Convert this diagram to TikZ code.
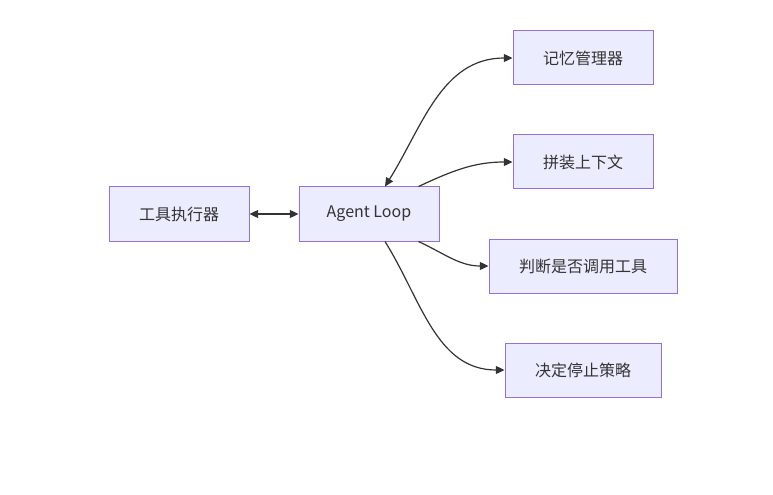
\documentclass[tikz,border=0pt]{standalone}
\usepackage{fontspec}
\setmainfont{Noto Sans CJK SC}
\usepackage{xcolor}
\usepackage{tikz}
\usetikzlibrary{arrows.meta}

\definecolor{boxfill}{HTML}{ECECFF}
\definecolor{boxline}{HTML}{9370DB}
\definecolor{edgeline}{HTML}{333333}

\begin{document}
\begin{tikzpicture}[x=0.75pt, y=-0.75pt,
    box/.style={draw=boxline, fill=boxfill, line width=0.75pt, text=edgeline,
        font=\fontsize{12}{14}\selectfont, minimum width=105pt, minimum height=40.5pt,
        inner xsep=22.5pt},
    link/.style={draw=edgeline, line width=0.9pt, -{Triangle[length=6.5pt, width=6pt]}},
    dlink/.style={link, {Triangle[length=6.5pt, width=6pt]}-{Triangle[length=6.5pt, width=6pt]}}]
    \useasboundingbox (0,0) rectangle (773,495);

    % Left side: executor and main loop
    \node[box] (tools) at (179,214) {工具执行器};
    \node[box, inner xsep=0pt] (loop) at (369,214) {Agent Loop};

    % Right column of tasks
    \node[box] (memory) at (583,58) {记忆管理器};
    \node[box] (context) at (583,162) {拼装上下文};
    \node[box] (decide) at (583,266) {判断是否调用工具};
    \node[box] (stop) at (583,370) {决定停止策略};

    % Connectors
    \draw[dlink] (tools.east) -- (loop.west);
    \draw[dlink] ([xshift=12pt]loop.north) to[out=58, in=180] (memory.west);
    \draw[link] ([xshift=-15.75pt]loop.north east) to[out=25, in=180] (context.west);
    \draw[link] ([xshift=-15.75pt]loop.south east) to[out=-25, in=180] (decide.west);
    \draw[link] ([xshift=12pt]loop.south) to[out=-58, in=180] (stop.west);
\end{tikzpicture}
\end{document}
